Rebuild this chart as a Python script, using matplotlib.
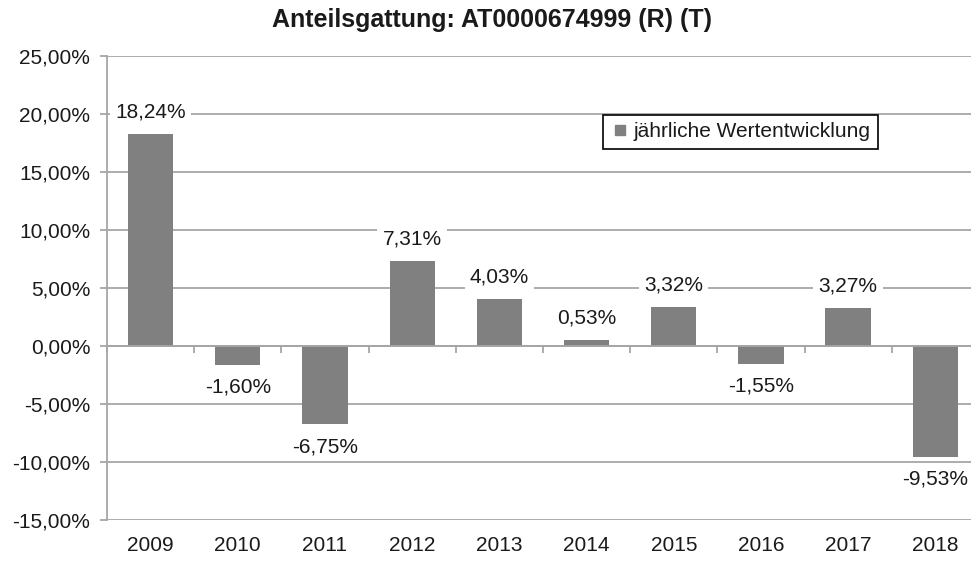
import numpy as np
from matplotlib import pyplot as plt
from matplotlib.lines import Line2D
from matplotlib.ticker import FuncFormatter

# data
years = ['2009', '2010', '2011', '2012', '2013', '2014', '2015', '2016', '2017', '2018']
returns = [18.24, -1.60, -6.75, 7.31, 4.03, 0.53, 3.32, -1.55, 3.27, -9.53]
y_ticks = [-15, -10, -5, 0, 5, 10, 15, 20, 25]

title = 'Anteilsgattung: AT0000674999 (R) (T)'
legend_label = 'jährliche Wertentwicklung'

bar_col = '#808080'
grid_col = '#a6a6a6'
txt_col = '#1a1a1a'

plt.rcParams['font.family'] = ['Liberation Sans', 'DejaVu Sans']
plt.rcParams['font.size'] = 15

fig = plt.figure(figsize=(9.71, 5.67), dpi=100)
ax = fig.add_axes([0.1102, 0.0829, 0.898, 0.8183])

x = np.arange(len(years))
ax.bar(x, returns, width=0.52, color=bar_col, zorder=2)

ax.set_xlim(-0.5, len(years) - 0.5)
ax.set_ylim(y_ticks[0], y_ticks[-1])
ax.set_yticks(y_ticks)
ax.yaxis.set_major_formatter(FuncFormatter(lambda v, p: ('%.2f%%' % v).replace('.', ',')))
ax.yaxis.grid(True, color=grid_col, linewidth=1.3, zorder=0)
ax.set_axisbelow(True)

for s in ['top', 'right']:
    ax.spines[s].set_visible(False)
ax.spines['left'].set_color(grid_col)
ax.spines['left'].set_linewidth(1.3)
ax.spines['bottom'].set_position(('data', 0))
ax.spines['bottom'].set_color(grid_col)
ax.spines['bottom'].set_linewidth(1.3)
ax.spines['bottom'].set_zorder(3)

# category boundary ticks on the zero line, labels at the bottom
ax.set_xticks(np.arange(len(years) + 1) - 0.5)
ax.set_xticklabels([])
ax.tick_params(axis='x', length=5, width=1.3, color=grid_col, direction='out')
ax.tick_params(axis='y', length=5, width=1.3, color=grid_col, pad=7, labelcolor=txt_col)
for xi, yr in zip(x, years):
    ax.text(xi, -0.056, yr, transform=ax.get_xaxis_transform(), ha='center', va='center',
            color=txt_col)

# data labels with white boxes over the gridlines
for xi, v in zip(x, returns):
    off = 16 if v >= 0 else -16
    ax.annotate(('%.2f%%' % v).replace('.', ','), (xi, v), xytext=(0, off),
                textcoords='offset points', ha='center', va='center', color=txt_col,
                bbox=dict(boxstyle='square,pad=0.25', fc='white', ec='none'), zorder=4)

handle = Line2D([], [], marker='s', color=bar_col, linestyle='none', markersize=6.5)
leg = ax.legend([handle], [legend_label], loc='upper left',
                bbox_to_anchor=(603 / 971, 1 - 115 / 567), bbox_transform=fig.transFigure,
                borderaxespad=0, fancybox=False, framealpha=1, edgecolor='black',
                handlelength=0.9, handletextpad=0.2, borderpad=0.35, labelcolor=txt_col)
leg.get_frame().set_linewidth(1.2)

fig.text(0.507, 1 - 27 / 567, title, ha='center', va='baseline', fontweight='bold',
         fontsize=18, color=txt_col)

fig.savefig('out.png', dpi=100)
